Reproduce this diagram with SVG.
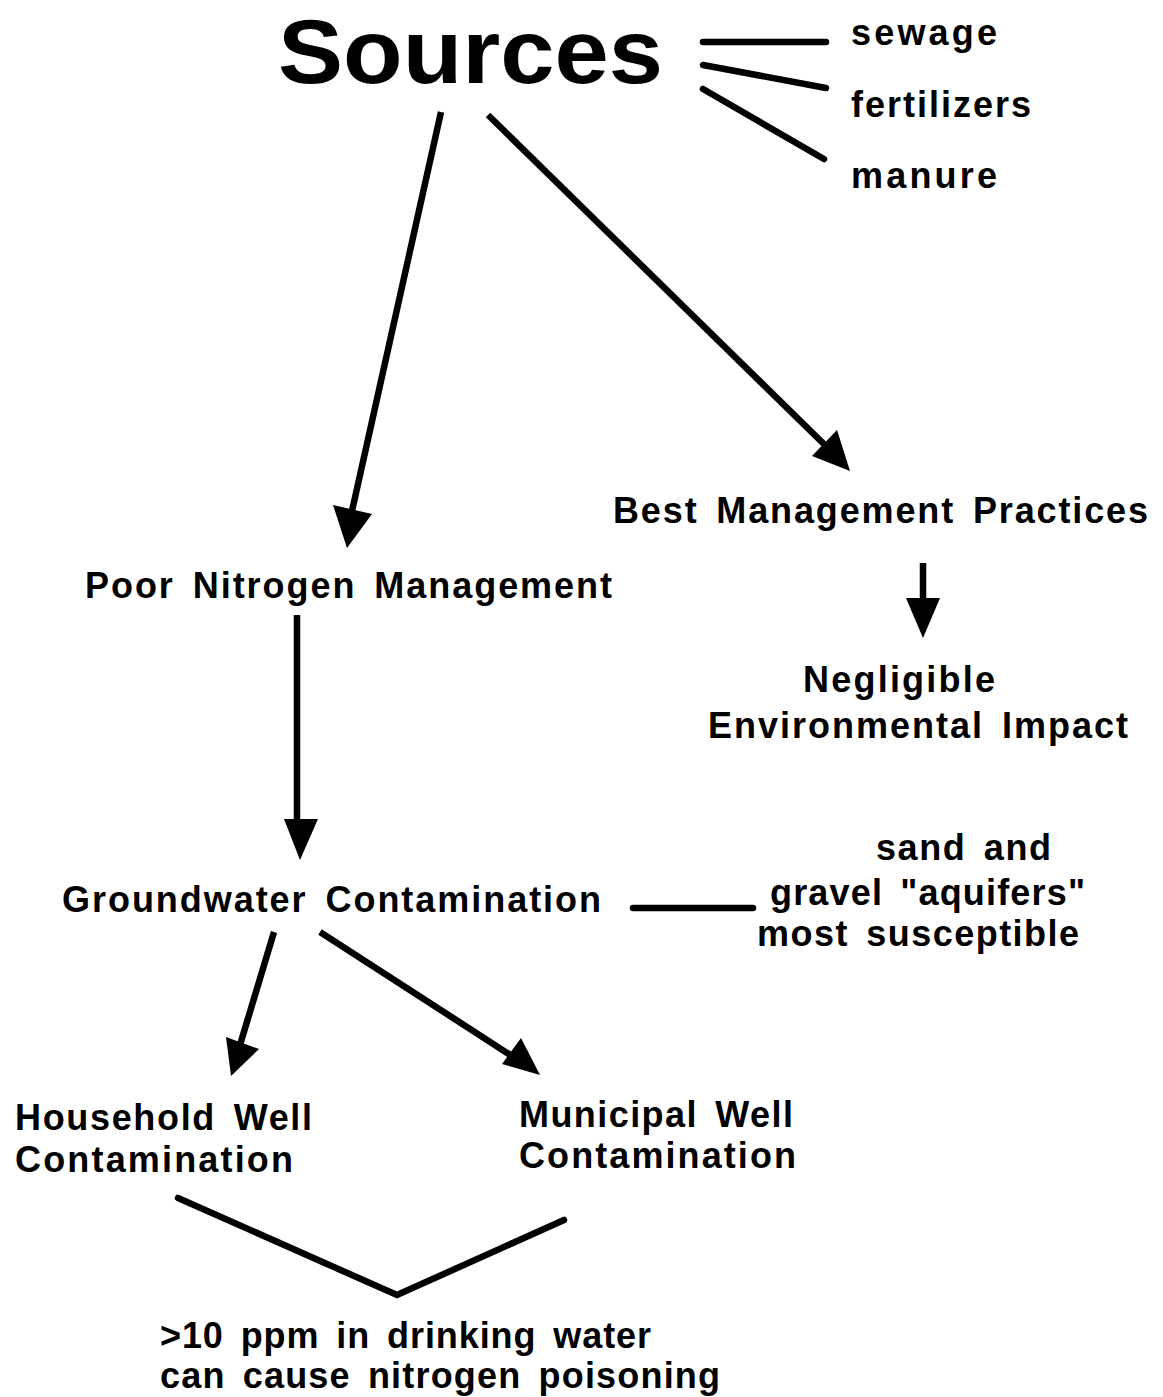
<svg xmlns="http://www.w3.org/2000/svg" width="1163" height="1397" viewBox="0 0 1163 1397">
<style>
text{font-family:"Liberation Sans",Arial,sans-serif;font-weight:bold;fill:#000}
.t{font-size:36px;word-spacing:6px}
.s{font-size:36px}
.big{font-size:91px}
.ln{stroke:#000;stroke-width:6.5;fill:none;stroke-linecap:round}
.ar{stroke:#000;stroke-width:6.5;fill:none}
.hd{fill:#000;stroke:none}
</style>
<rect width="1163" height="1397" fill="#fff"/>
<g id="sources"><text class="big" x="278" y="83" textLength="385" lengthAdjust="spacingAndGlyphs">Sources</text></g>
<g id="sewage"><text class="s" x="851" y="45" textLength="146" lengthAdjust="spacing">sewage</text></g>
<g id="fertilizers"><text class="s" x="851" y="117" textLength="180" lengthAdjust="spacing">fertilizers</text></g>
<g id="manure"><text class="s" x="851" y="188" textLength="146" lengthAdjust="spacing">manure</text></g>
<g id="bmp"><text class="t" x="613" y="523" textLength="535" lengthAdjust="spacing">Best Management Practices</text></g>
<g id="poor"><text class="t" x="85" y="598" textLength="527" lengthAdjust="spacing">Poor Nitrogen Management</text></g>
<g id="negligible"><text class="t" x="803" y="692" textLength="192" lengthAdjust="spacing">Negligible</text><text class="t" x="708" y="738" textLength="420" lengthAdjust="spacing">Environmental Impact</text></g>
<g id="aquifers"><text class="t" x="876" y="860" textLength="175" lengthAdjust="spacing">sand and</text><text class="t" x="770" y="905" textLength="315" lengthAdjust="spacing">gravel "aquifers"</text><text class="t" x="757" y="946" textLength="322" lengthAdjust="spacing">most susceptible</text></g>
<g id="groundwater"><text class="t" x="62" y="912" textLength="539" lengthAdjust="spacing">Groundwater Contamination</text></g>
<g id="household"><text class="t" x="15" y="1130" textLength="297" lengthAdjust="spacing">Household Well</text><text class="t" x="15" y="1172" textLength="278" lengthAdjust="spacing">Contamination</text></g>
<g id="municipal"><text class="t" x="519" y="1127" textLength="274" lengthAdjust="spacing">Municipal Well</text><text class="t" x="519" y="1168" textLength="277" lengthAdjust="spacing">Contamination</text></g>
<g id="poisoning"><text class="t" x="160" y="1348" textLength="491" lengthAdjust="spacing">&gt;10 ppm in drinking water</text><text class="t" x="160" y="1388" textLength="560" lengthAdjust="spacing">can cause nitrogen poisoning</text></g>
<g id="connectors">
<line class="ln" x1="703" y1="42" x2="826" y2="42"/>
<line class="ln" x1="703" y1="65" x2="826" y2="88"/>
<line class="ln" x1="703" y1="89" x2="824" y2="159"/>
<line class="ar" x1="441" y1="112" x2="350" y2="520"/>
<polygon class="hd" points="347,548 333,505 372,514"/>
<line class="ar" x1="488" y1="115" x2="830" y2="450"/>
<polygon class="hd" points="850,471 812,456 837,430"/>
<line class="ar" x1="923" y1="563" x2="923" y2="605"/>
<polygon class="hd" points="923,638 906,598 940,598"/>
<line class="ar" x1="297" y1="615" x2="297" y2="825"/>
<polygon class="hd" points="300,860 284,819 318,819"/>
<line class="ar" x1="274" y1="932" x2="240" y2="1045"/>
<polygon class="hd" points="231,1076 226,1037 259,1049"/>
<line class="ar" x1="320" y1="932" x2="515" y2="1058"/>
<polygon class="hd" points="540,1075 502,1064 521,1038"/>
<line class="ln" x1="633" y1="908" x2="753" y2="908"/>
<polyline class="ln" points="178,1198 397,1295 564,1220"/>
</g>
</svg>
